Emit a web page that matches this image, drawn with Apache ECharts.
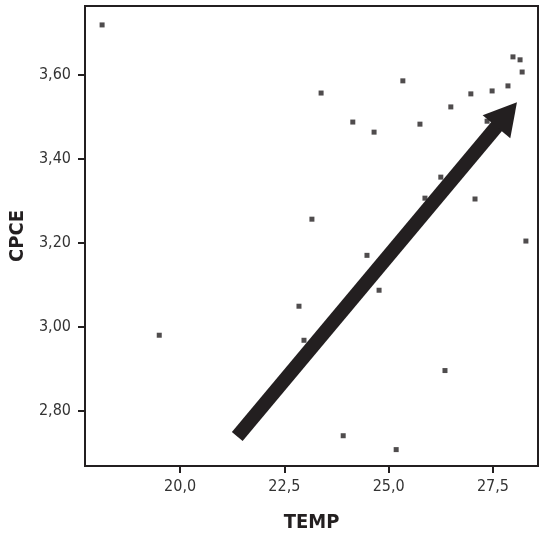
<!DOCTYPE html>
<html>
<head>
<meta charset="utf-8">
<script src="https://cdn.jsdelivr.net/npm/echarts@6/dist/echarts.min.js"></script>
<style>html,body{margin:0;padding:0;background:#fff;}#c{width:539px;height:542px;}</style>
</head>
<body>
<div id="c"></div>
<script>
// Data
var tempValues = [18.13, 19.50, 23.38, 24.14, 24.65, 25.34, 25.75, 26.49, 26.97, 27.48, 27.86, 27.98, 28.15, 28.20, 27.36, 26.25, 25.87, 27.07, 28.29, 23.16, 24.48, 24.77, 22.85, 22.97, 26.35, 23.91, 25.18];
var cpceValues = [3.718, 2.980, 3.556, 3.487, 3.463, 3.585, 3.482, 3.523, 3.554, 3.561, 3.573, 3.642, 3.635, 3.606, 3.489, 3.356, 3.306, 3.304, 3.204, 3.256, 3.170, 3.087, 3.049, 2.968, 2.896, 2.741, 2.708];
var xTicks = [20.0, 22.5, 25.0, 27.5];
var yTicks = [2.80, 3.00, 3.20, 3.40, 3.60];
var arrowStart = [21.37, 2.739];
var arrowEnd = [27.83, 3.505];

var points = tempValues.map(function (t, i) { return [t, cpceValues[i]]; });
var FONT = "'Liberation Sans Narrow', 'DejaVu Sans Condensed', 'Noto Sans', sans-serif";
var INK = '#231f20';

var chart = echarts.init(document.getElementById('c'), null, {renderer: 'canvas'});
chart.setOption({
  animation: false,
  backgroundColor: '#fff',
  grid: {left: 85, top: 6, bottom: 76, right: 1, show: true, borderColor: INK, borderWidth: 2, backgroundColor: 'transparent'},
  xAxis: {
    type: 'value', min: 17.72, max: 28.58,
    name: 'TEMP', nameLocation: 'middle', nameGap: 47,
    nameTextStyle: {fontFamily: FONT, fontSize: 20, fontWeight: 'bold', color: INK},
    splitLine: {show: false},
    axisLine: {show: false},
    axisTick: {show: true, customValues: xTicks, length: 7, lineStyle: {color: INK, width: 2}},
    axisLabel: {customValues: xTicks, margin: 13, fontFamily: FONT, fontSize: 16, color: '#333',
      formatter: function (v) { return v.toFixed(1).replace('.', ','); }}
  },
  yAxis: {
    type: 'value', min: 2.669, max: 3.763,
    name: 'CPCE', nameLocation: 'middle', nameGap: 55,
    nameTextStyle: {fontFamily: FONT, fontSize: 20, fontWeight: 'bold', color: INK},
    splitLine: {show: false},
    axisLine: {show: false},
    axisTick: {show: true, customValues: yTicks, length: 7, lineStyle: {color: INK, width: 2}},
    axisLabel: {customValues: yTicks, margin: 14, fontFamily: FONT, fontSize: 16, color: '#333',
      formatter: function (v) { return v.toFixed(2).replace('.', ','); }}
  },
  series: [{
    type: 'scatter',
    data: points,
    symbol: 'rect',
    symbolSize: 5,
    itemStyle: {color: INK},
    silent: true,
    markLine: {
      silent: true,
      symbol: ['none', 'triangle'],
      symbolSize: [36, 32],
      label: {show: false},
      lineStyle: {color: INK, width: 14, type: 'solid', cap: 'butt'},
      emphasis: {disabled: true},
      data: [[{coord: arrowStart}, {coord: arrowEnd}]]
    }
  }]
});
</script>
</body>
</html>
